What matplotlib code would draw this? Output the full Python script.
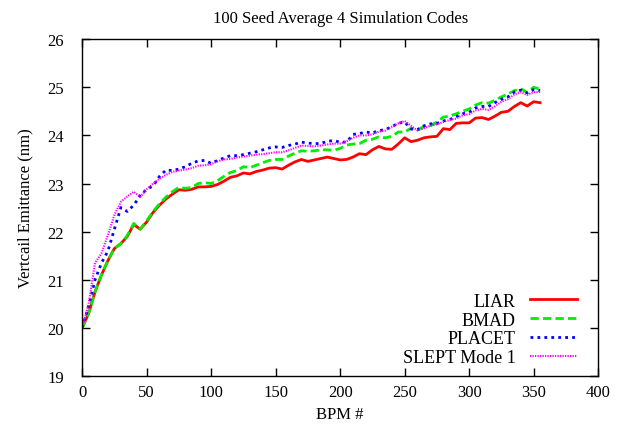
import matplotlib
matplotlib.use('Agg')
import matplotlib.pyplot as plt

# BPM index (shared by all four codes)
bpm = list(range(0, 360, 5))

liar = [20.0, 20.3, 20.75, 21.1, 21.4, 21.65, 21.75, 21.9, 22.15, 22.05,
        22.2, 22.4, 22.55, 22.68, 22.78, 22.87, 22.86, 22.88, 22.93, 22.93,
        22.94, 22.98, 23.05, 23.13, 23.16, 23.22, 23.2, 23.25, 23.28, 23.32,
        23.33, 23.3, 23.38, 23.45, 23.5, 23.46, 23.49, 23.52, 23.55, 23.52,
        23.49, 23.5, 23.55, 23.62, 23.6, 23.7, 23.77, 23.72, 23.71, 23.82,
        23.95, 23.87, 23.9, 23.95, 23.97, 23.98, 24.14, 24.12, 24.25, 24.26,
        24.26, 24.36, 24.37, 24.33, 24.4, 24.48, 24.5, 24.6, 24.68, 24.61,
        24.7, 24.68]

bmad = [20.0, 20.3, 20.75, 21.1, 21.4, 21.65, 21.75, 21.92, 22.17, 22.05,
        22.22, 22.42, 22.58, 22.72, 22.83, 22.92, 22.9, 22.92, 23.0, 23.02,
        23.0, 23.06, 23.15, 23.23, 23.27, 23.35, 23.33, 23.38, 23.43, 23.48,
        23.5, 23.5, 23.57, 23.63, 23.68, 23.67, 23.68, 23.7, 23.7, 23.69,
        23.73, 23.8, 23.82, 23.83, 23.9, 23.92, 23.97, 23.95, 23.98, 24.07,
        24.07, 24.15, 24.12, 24.18, 24.2, 24.28, 24.38, 24.4, 24.45, 24.5,
        24.55, 24.63, 24.68, 24.67, 24.73, 24.8, 24.86, 24.93, 24.97, 24.89,
        25.0, 24.96]

placet = [20.0, 20.45, 21.0, 21.35, 21.6, 22.05, 22.5, 22.42, 22.55, 22.75,
          22.88, 22.95, 23.15, 23.28, 23.27, 23.3, 23.35, 23.42, 23.47, 23.48,
          23.42, 23.48, 23.53, 23.58, 23.58, 23.6, 23.63, 23.66, 23.7, 23.74,
          23.76, 23.75, 23.79, 23.82, 23.86, 23.84, 23.83, 23.83, 23.88, 23.89,
          23.86, 23.86, 24.02, 24.04, 24.07, 24.05, 24.1, 24.12, 24.18, 24.25,
          24.28, 24.13, 24.12, 24.2, 24.24, 24.25, 24.3, 24.33, 24.39, 24.45,
          24.48, 24.57, 24.6, 24.6, 24.68, 24.75, 24.8, 24.9, 24.94, 24.88,
          24.95, 24.93]

slept = [20.0, 20.5, 21.35, 21.55, 21.93, 22.35, 22.62, 22.73, 22.83, 22.72,
         22.88, 23.0, 23.1, 23.18, 23.24, 23.27, 23.29, 23.32, 23.37, 23.38,
         23.4, 23.46, 23.5, 23.51, 23.54, 23.56, 23.58, 23.6, 23.61, 23.63,
         23.65, 23.65, 23.69, 23.74, 23.79, 23.78, 23.77, 23.79, 23.81, 23.83,
         23.83, 23.88, 23.95, 24.0, 24.0, 24.02, 24.08, 24.1, 24.18, 24.25,
         24.3, 24.2, 24.1, 24.15, 24.2, 24.23, 24.28, 24.32, 24.35, 24.42,
         24.44, 24.52, 24.55, 24.53, 24.6, 24.7, 24.75, 24.85, 24.9, 24.84,
         24.9, 24.9]

plt.rcParams['font.family'] = ['Liberation Serif', 'DejaVu Serif']
plt.rcParams['font.size'] = 12

fig = plt.figure(figsize=(6.27, 4.27), dpi=100)
ax = fig.add_axes([0.131, 0.117, 0.823, 0.789])

ax.plot(bpm, liar, color='#ff0000', lw=2.0, ls='-', label='LIAR')
ax.plot(bpm, bmad, color='#00ee00', lw=2.0, ls=(0, (3, 1.5)), label='BMAD')
ax.plot(bpm, placet, color='#0000ff', lw=2.0, ls=(0, (1, 1.5)), label='PLACET')
ax.plot(bpm, slept, color='#ff00ff', lw=1.5, ls=(0, (0.6, 0.6)), label='SLEPT Mode 1')

ax.set_xlim(0, 400)
ax.set_ylim(19, 26)
ax.set_xticks(range(0, 401, 50))
ax.set_yticks(range(19, 27))
ax.tick_params(direction='in', top=True, right=True, length=6, width=1)
ax.tick_params(axis='x', pad=6)
ax.tick_params(axis='y', pad=13)
for s in ax.spines.values():
    s.set_linewidth(1.0)

ax.set_title('100 Seed Average 4 Simulation Codes', fontsize=12, pad=12)
ax.set_xlabel('BPM #')
ax.set_ylabel('Vertcail Emittance (nm)', labelpad=10)

ax.legend(loc='lower right', bbox_to_anchor=(0.973, 0.008), frameon=False,
          markerfirst=False, handlelength=2.6, labelspacing=0.1,
          borderaxespad=0.0, fontsize=13)

fig.savefig('out.png', dpi=100)
